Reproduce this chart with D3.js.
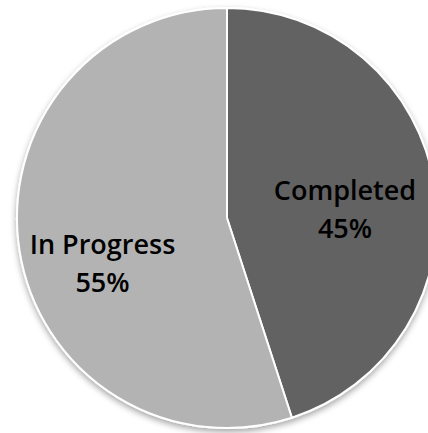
<!DOCTYPE html>
<html><head><meta charset="utf-8">
<script src="https://cdn.jsdelivr.net/npm/d3@7"></script>
<style>html,body{margin:0;padding:0;background:#fff;overflow:hidden}</style>
</head><body>
<svg id="c" width="428" height="433"></svg>
<script>
const categories = ["Completed", "In Progress"];
const values = [45, 55];
const labels = ["45%", "55%"];
const colors = ["#626262", "#b3b3b3"];

const cx = 227, cy = 218, R = 210;
const svg = d3.select("#c");
const defs = svg.append("defs");
const f = defs.append("filter").attr("id","sh").attr("x","-20%").attr("y","-20%").attr("width","140%").attr("height","140%");
f.append("feDropShadow").attr("dx",0).attr("dy",3).attr("stdDeviation",3).attr("flood-color","#000").attr("flood-opacity",0.35);

const pie = d3.pie().sort(null).value(d => d.v);
const data = pie(categories.map((c,i)=>({c, v: values[i], l: labels[i], col: colors[i], i})));
const arc = d3.arc().innerRadius(0).outerRadius(R);
const g = svg.append("g").attr("transform",`translate(${cx},${cy})`);
g.append("g").attr("filter","url(#sh)").selectAll("path").data(data).join("path")
  .attr("d", arc).attr("fill", d=>d.data.col)
  .attr("stroke","#fff").attr("stroke-width",2).attr("stroke-linejoin","round");

// label placement relative to pie centre (first-line baseline)
const anchors = [[118, -18], [-124.5, 36]];
const lab = g.append("g").attr("font-family","'Open Sans', sans-serif").attr("font-weight","600")
  .attr("font-size","27px").attr("fill","#000").attr("text-anchor","middle");
data.forEach((d,i) => {
  const [x,y] = anchors[i];
  lab.append("text").attr("x", x).attr("y", y).text(d.data.c);
  lab.append("text").attr("x", x).attr("y", y + 38).text(d.data.l);
});
</script>
</body></html>
